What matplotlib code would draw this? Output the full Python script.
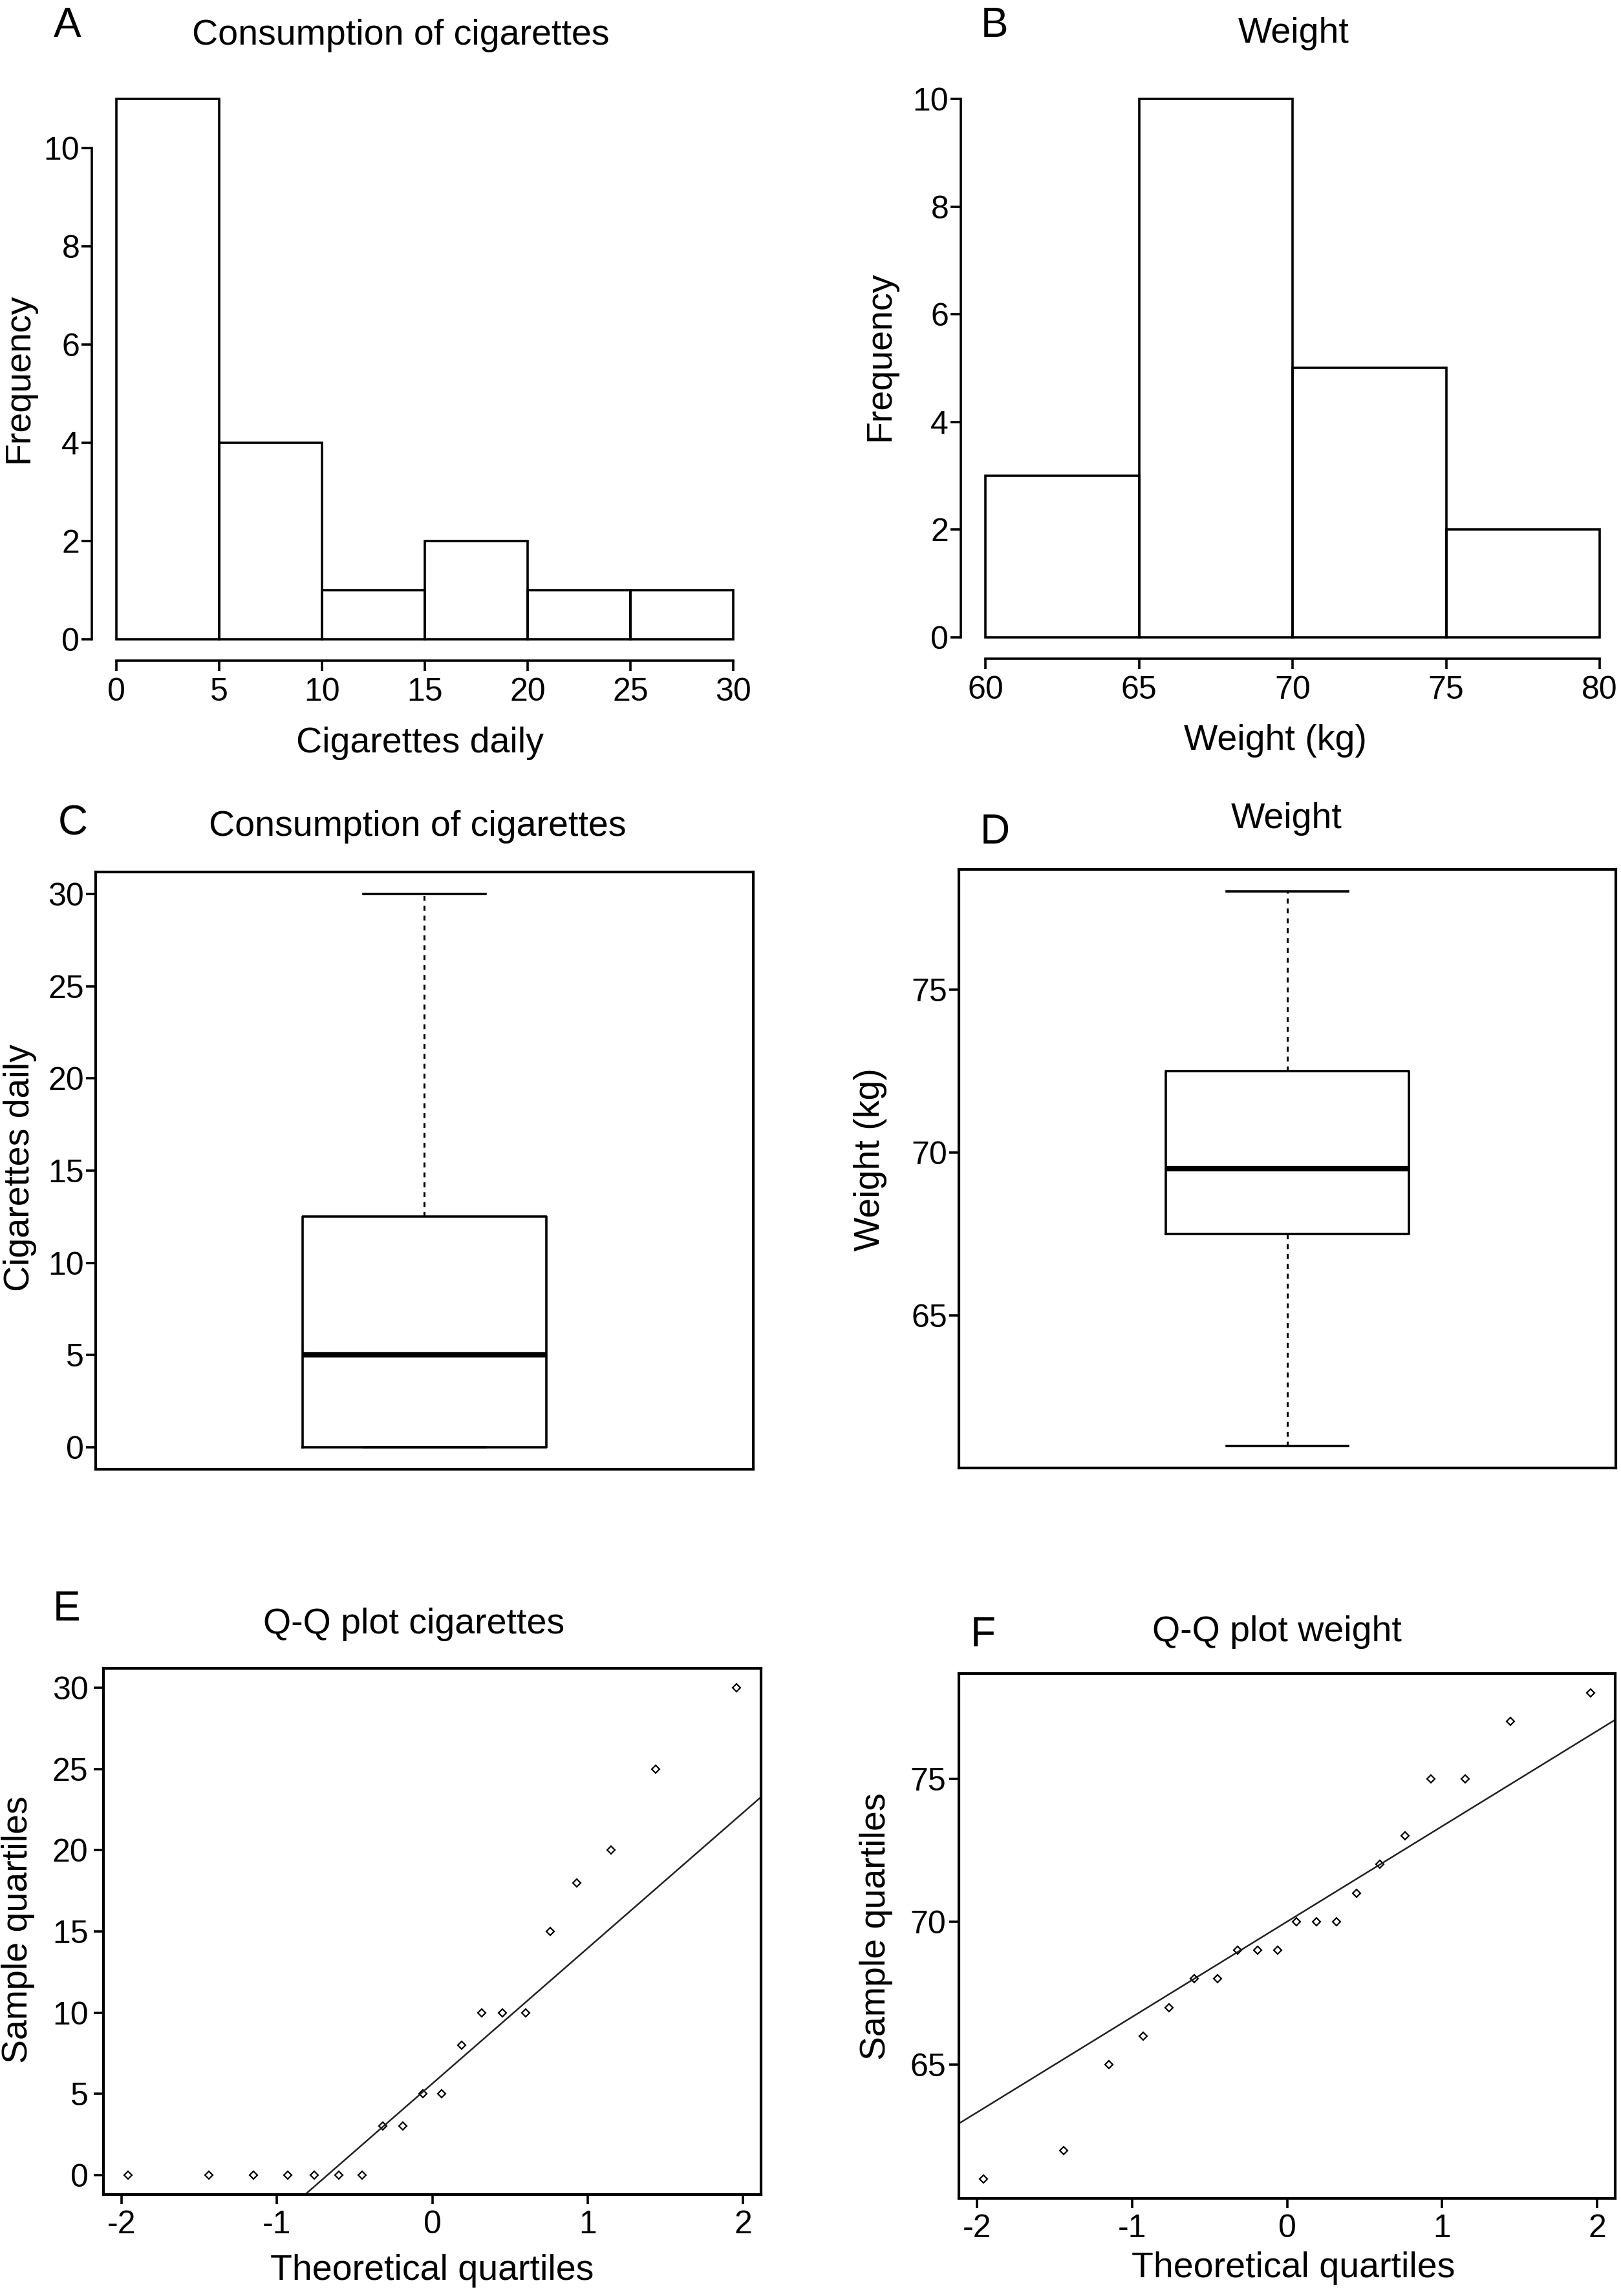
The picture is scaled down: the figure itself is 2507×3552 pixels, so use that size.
import numpy as np
import matplotlib.pyplot as plt

plt.rcParams['font.family'] = ['Liberation Sans', 'DejaVu Sans']
plt.rcParams['axes.unicode_minus'] = False

# raw samples (n = 20)
cigarettes = [0, 0, 0, 0, 0, 0, 0, 3, 3, 5, 5, 8, 10, 10, 10, 15, 18, 20, 25, 30]
weight = [61, 62, 65, 66, 67, 68, 68, 69, 69, 69, 70, 70, 70, 71, 72, 73, 75, 75, 77, 78]

# theoretical normal quantiles of the sorted sample positions
theo_quant = [-1.96, -1.44, -1.15, -0.93, -0.76, -0.60, -0.45, -0.32, -0.19, -0.06,
              0.06, 0.19, 0.32, 0.45, 0.60, 0.76, 0.93, 1.15, 1.44, 1.96]

# histogram counts
cig_edges = [0, 5, 10, 15, 20, 25, 30]
cig_counts = [11, 4, 1, 2, 1, 1]
weight_edges = [60, 65, 70, 75, 80]
weight_counts = [3, 10, 5, 2]

W, H = 2507, 3552
fig = plt.figure(figsize=(W / 100, H / 100), dpi=100)

FS_TICK = 36
FS_LAB = 40
FS_TAG = 46
LW = 2.6


def add_axes(box):
    left, right, top, bottom = box
    return fig.add_axes([left / W, 1 - bottom / H, (right - left) / W, (bottom - top) / H])


def put(x, y, s, size=FS_LAB, **kw):
    fig.text(x / W, 1 - y / H, s, fontsize=size, ha='center', va='center', **kw)


def r_box(ax):
    for sp in ax.spines.values():
        sp.set_linewidth(LW + 0.4)
        sp.set_color('black')


def tukey_stats(values):
    # R style five-number summary (hinges), as boxplot() uses
    v = np.sort(np.asarray(values, dtype=float))
    n = len(v)
    lower = v[: (n + 1) // 2]
    upper = v[n // 2:]
    return dict(med=np.median(v), q1=np.median(lower), q3=np.median(upper),
                whislo=v.min(), whishi=v.max(), fliers=[])


def histogram(ax, edges, counts, xticks, yticks):
    widths = np.diff(edges)
    ax.bar(edges[:-1], counts, width=widths, align='edge', fill=False,
           edgecolor='black', linewidth=LW)
    pad_x = 0.04 * (edges[-1] - edges[0])
    pad_y = 0.04 * max(counts)
    ax.set_xlim(edges[0] - pad_x, edges[-1] + pad_x)
    ax.set_ylim(-pad_y, max(counts) + pad_y)
    ax.spines['top'].set_visible(False)
    ax.spines['right'].set_visible(False)
    ax.spines['left'].set_bounds(yticks[0], yticks[-1])
    ax.spines['bottom'].set_bounds(xticks[0], xticks[-1])
    for side in ['left', 'bottom']:
        ax.spines[side].set_linewidth(LW)
    ax.set_xticks(xticks)
    ax.set_yticks(yticks)
    ax.tick_params(axis='both', length=11.5, width=LW, labelsize=FS_TICK)
    ax.tick_params(axis='y', pad=2)
    ax.tick_params(axis='x', pad=7)


def boxplot(ax, values, yticks):
    st = tukey_stats(values)
    ax.bxp([st], positions=[1], widths=0.4, showfliers=False,
           boxprops=dict(color='black', linewidth=LW),
           whiskerprops=dict(color='black', linewidth=2.2, linestyle=(0, (2.5, 2.5))),
           capprops=dict(color='black', linewidth=LW),
           medianprops=dict(color='black', linewidth=6))
    lo, hi = min(values), max(values)
    pad = 0.04 * (hi - lo)
    ax.set_xlim(0.46, 1.54)
    ax.set_ylim(lo - pad, hi + pad)
    ax.set_xticks([])
    ax.set_yticks(yticks)
    ax.tick_params(axis='y', length=11, width=LW, labelsize=FS_TICK, pad=2)
    r_box(ax)


def qqplot(ax, values, yticks, ypad):
    ax.plot(theo_quant, values, linestyle='none', marker='D', markersize=6.5,
            markerfacecolor='none', markeredgecolor='black', markeredgewidth=1.6)
    q1, q3 = np.percentile(values, [25, 75])
    z = 0.6745
    slope = (q3 - q1) / (2 * z)
    icpt = q1 + z * slope
    ax.axline((0, icpt), slope=slope, color='#222222', linewidth=1.8)
    xpad = 0.04 * (theo_quant[-1] - theo_quant[0])
    ax.set_xlim(theo_quant[0] - xpad, theo_quant[-1] + xpad)
    lo, hi = min(values), max(values)
    pad = 0.04 * (hi - lo)
    ax.set_ylim(lo - pad, hi + pad)
    ax.set_xticks([-2, -1, 0, 1, 2])
    ax.set_yticks(yticks)
    ax.tick_params(axis='both', length=11, width=LW, labelsize=FS_TICK)
    ax.tick_params(axis='y', pad=ypad)
    ax.tick_params(axis='x', pad=6)
    r_box(ax)


# A: histogram cigarettes
box_a = (142, 1172, 120, 1022)
ax = add_axes(box_a)
histogram(ax, cig_edges, cig_counts, [0, 5, 10, 15, 20, 25, 30], [0, 2, 4, 6, 8, 10])
put(104, 40, 'A', size=FS_TAG)
put(620, 55, 'Consumption of cigarettes')
put(649, 1150, 'Cigarettes daily')
put(29, 585, 'Frequency', rotation=90)

# B: histogram weight
box_b = (1486, 2512, 120, 1019)
ax = add_axes(box_b)
histogram(ax, weight_edges, weight_counts, [60, 65, 70, 75, 80], [0, 2, 4, 6, 8, 10])
put(1538, 40, 'B', size=FS_TAG)
put(2001, 52, 'Weight')
put(1972, 1146, 'Weight (kg)')
put(1362, 551, 'Frequency', rotation=90)

# C: boxplot cigarettes
box_c = (148, 1165, 1349, 2273)
ax = add_axes(box_c)
boxplot(ax, cigarettes, [0, 5, 10, 15, 20, 25, 30])
put(113, 1275, 'C', size=FS_TAG)
put(646, 1279, 'Consumption of cigarettes')
put(31, 1807, 'Cigarettes daily', rotation=90)

# D: boxplot weight
box_d = (1483, 2499, 1345, 2271)
ax = add_axes(box_d)
boxplot(ax, weight, [65, 70, 75])
put(1539, 1288, 'D', size=FS_TAG)
put(1990, 1267, 'Weight')
put(1346, 1794, 'Weight (kg)', rotation=90)

# E: Q-Q plot cigarettes
box_e = (160, 1177, 2581, 3395)
ax = add_axes(box_e)
qqplot(ax, cigarettes, [0, 5, 10, 15, 20, 25, 30], ypad=6)
put(103, 2490, 'E', size=FS_TAG)
put(640, 2513, 'Q-Q plot cigarettes')
put(668, 3513, 'Theoretical quartiles')
put(28, 2985, 'Sample quartiles', rotation=90)

# F: Q-Q plot weight
box_f = (1483, 2498, 2589, 3401)
ax = add_axes(box_f)
qqplot(ax, weight, [65, 70, 75], ypad=3)
put(1520, 2530, 'F', size=FS_TAG)
put(1975, 2525, 'Q-Q plot weight')
put(2000, 3509, 'Theoretical quartiles')
put(1355, 2980, 'Sample quartiles', rotation=90)

fig.savefig('out.png', dpi=100, facecolor='white')
